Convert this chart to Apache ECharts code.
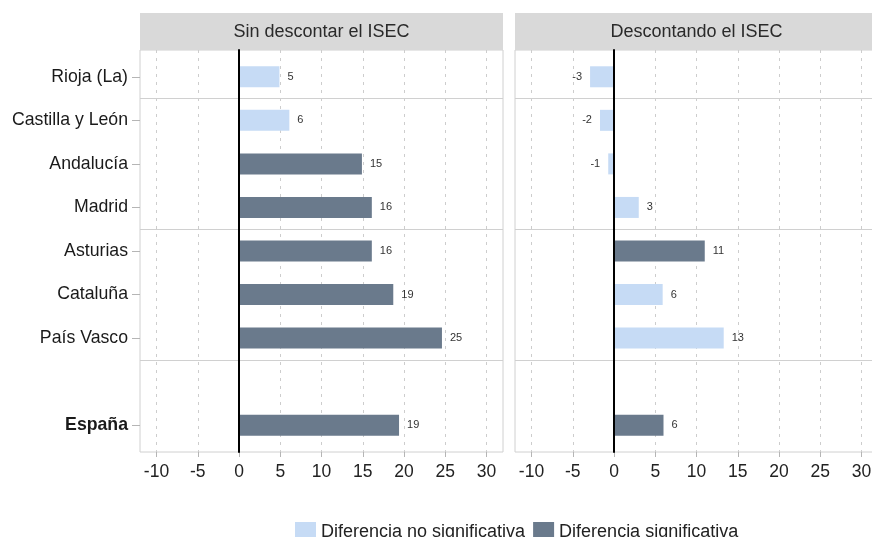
<!DOCTYPE html>
<html><head><meta charset="utf-8">
<script src="https://cdn.jsdelivr.net/npm/echarts@6/dist/echarts.min.js"></script>
<style>html,body{margin:0;padding:0;background:#fff}#c{width:872px;height:537px}</style>
</head><body><div id="c"></div>
<script>
// ---- data ----
const categories = ['Rioja (La)', 'Castilla y León', 'Andalucía', 'Madrid', 'Asturias', 'Cataluña', 'País Vasco', '', 'España'];
const regionGroups = [1, 2, 2, 2, 3, 3, 3, 4, 4];
const boldCategory = 'España';
const panelTitles = ['Sin descontar el ISEC', 'Descontando el ISEC'];
const seriesNames = ['Diferencia no significativa', 'Diferencia significativa'];
const sinIsecValues = [4.9, 6.1, 14.9, 16.1, 16.1, 18.7, 24.6, null, 19.4];
const sinIsecSignif = [0, 0, 1, 1, 1, 1, 1, null, 1];
const conIsecValues = [-2.9, -1.7, -0.7, 3.0, 11.0, 5.9, 13.3, null, 6.0];
const conIsecSignif = [0, 0, 0, 0, 1, 0, 0, null, 1];
const xTickMin = -10, xTickMax = 30, xTickStep = 5;
const xFullMin = -12, xFullMax = 32;

// ---- layout / style ----
const FONT = "'Liberation Sans', Arial, sans-serif";
const COLORS = ['#c6dbf5', '#6a7a8c'];
const PANEL_LEFT = [140, 515];
const PANEL_W = 363;
const FRAME_TOP = 50, FRAME_H = 402;
const INNER_TOP = 55, INNER_H = 392;
const HEADER_TOP = 13, HEADER_H = 37;
const UNIT = PANEL_W / (xFullMax - xFullMin);

const panelsData = [
  {values: sinIsecValues, signif: sinIsecSignif},
  {values: conIsecValues, signif: conIsecSignif}
];

const breaks = [];
for (let i = 1; i < regionGroups.length; i++) if (regionGroups[i] !== regionGroups[i - 1]) breaks.push(i);

const grid = [], xAxis = [], yAxis = [], series = [], graphic = [];

panelsData.forEach((pd, p) => {
  const L = PANEL_LEFT[p];
  const gF = grid.length;
  // frame grid
  grid.push({left: L, top: FRAME_TOP, width: PANEL_W, height: FRAME_H, show: true, outerBoundsMode: 'none',
             borderColor: '#d0d0d0', borderWidth: 1, backgroundColor: 'transparent'});
  // tick / gridline grid
  grid.push({left: L + (xTickMin - xFullMin) * UNIT, top: FRAME_TOP, outerBoundsMode: 'none',
             width: (xTickMax - xTickMin) * UNIT, height: FRAME_H});
  // bar grid
  grid.push({left: L, top: INNER_TOP, width: PANEL_W, height: INNER_H, outerBoundsMode: 'none'});

  xAxis.push({gridIndex: gF, type: 'value', min: xFullMin, max: xFullMax, show: false});
  xAxis.push({gridIndex: gF + 1, type: 'value', min: xTickMin, max: xTickMax, interval: xTickStep,
    axisLine: {show: false},
    axisTick: {show: true, length: 5, lineStyle: {color: '#b5b5b5'}},
    axisLabel: {fontFamily: FONT, fontSize: 17.5, color: '#222', margin: 11},
    splitLine: {show: true, lineStyle: {color: '#cdcdcd', type: [3, 5], width: 1}}});
  xAxis.push({gridIndex: gF + 2, type: 'value', min: xFullMin, max: xFullMax, show: false});

  const yBase = yAxis.length;
  yAxis.push({gridIndex: gF, type: 'value', min: 0, max: 1, show: false});
  yAxis.push({gridIndex: gF + 1, type: 'category', data: [''], z: 10,
    axisLine: {show: true, onZero: true, lineStyle: {color: '#000', width: 2}},
    axisTick: {show: false}, axisLabel: {show: false}, splitLine: {show: false}});
  yAxis.push({gridIndex: gF + 2, type: 'category', data: categories, inverse: true,
    axisLine: {show: false, onZero: false},
    axisTick: {show: p === 0, length: 8, alignWithLabel: true,
               interval: (i, v) => v !== '', lineStyle: {color: '#b5b5b5'}},
    axisLabel: {show: p === 0, interval: 0, margin: 12, fontFamily: FONT, fontSize: 17.7, color: '#1a1a1a',
      formatter: v => v === boldCategory ? '{b|' + v + '}' : v,
      rich: {b: {fontFamily: FONT, fontSize: 17.7, fontWeight: 'bold', color: '#1a1a1a'}}}});
  yAxis.push({gridIndex: gF + 2, type: 'value', min: 0, max: categories.length, inverse: true, show: false});

  seriesNames.forEach((name, k) => {
    series.push({
      name, type: 'bar', xAxisIndex: gF + 2, yAxisIndex: yBase + 2, stack: 'p' + p,
      barWidth: 21, itemStyle: {color: COLORS[k]},
      label: {show: true, position: 'right', distance: 8, fontFamily: FONT, fontSize: 11, color: '#333',
              formatter: q => Math.round(q.value)},
      data: pd.values.map((v, i) => {
        if (pd.signif[i] !== k || v == null) return '-';
        return v < 0 ? {value: v, label: {position: 'left'}} : v;
      })
    });
  });
  series.push({type: 'line', xAxisIndex: gF + 2, yAxisIndex: yBase + 3, data: [], silent: true,
    markLine: {silent: true, symbol: 'none', label: {show: false},
      lineStyle: {color: '#d0d0d0', type: 'solid', width: 1},
      emphasis: {disabled: true},
      data: breaks.map(b => ({yAxis: b}))}});

  graphic.push({type: 'rect', left: L, top: HEADER_TOP, shape: {width: PANEL_W, height: HEADER_H},
                style: {fill: '#d9d9d9'}, silent: true});
  graphic.push({type: 'text', x: L + PANEL_W / 2, y: HEADER_TOP + HEADER_H / 2 + 1, silent: true,
                style: {text: panelTitles[p], textAlign: 'center', textVerticalAlign: 'middle',
                        font: '18px ' + FONT, fill: '#2a2a2a'}});
});

const chart = echarts.init(document.getElementById('c'), null, {renderer: 'canvas'});
chart.setOption({
  animation: false,
  backgroundColor: '#fff',
  grid, xAxis, yAxis, series, graphic,
  legend: {data: seriesNames, left: 290, top: 517, icon: 'rect', itemWidth: 21, itemHeight: 21, itemGap: 8,
           textStyle: {fontFamily: FONT, fontSize: 18, color: '#222'}}
});
</script></body></html>
